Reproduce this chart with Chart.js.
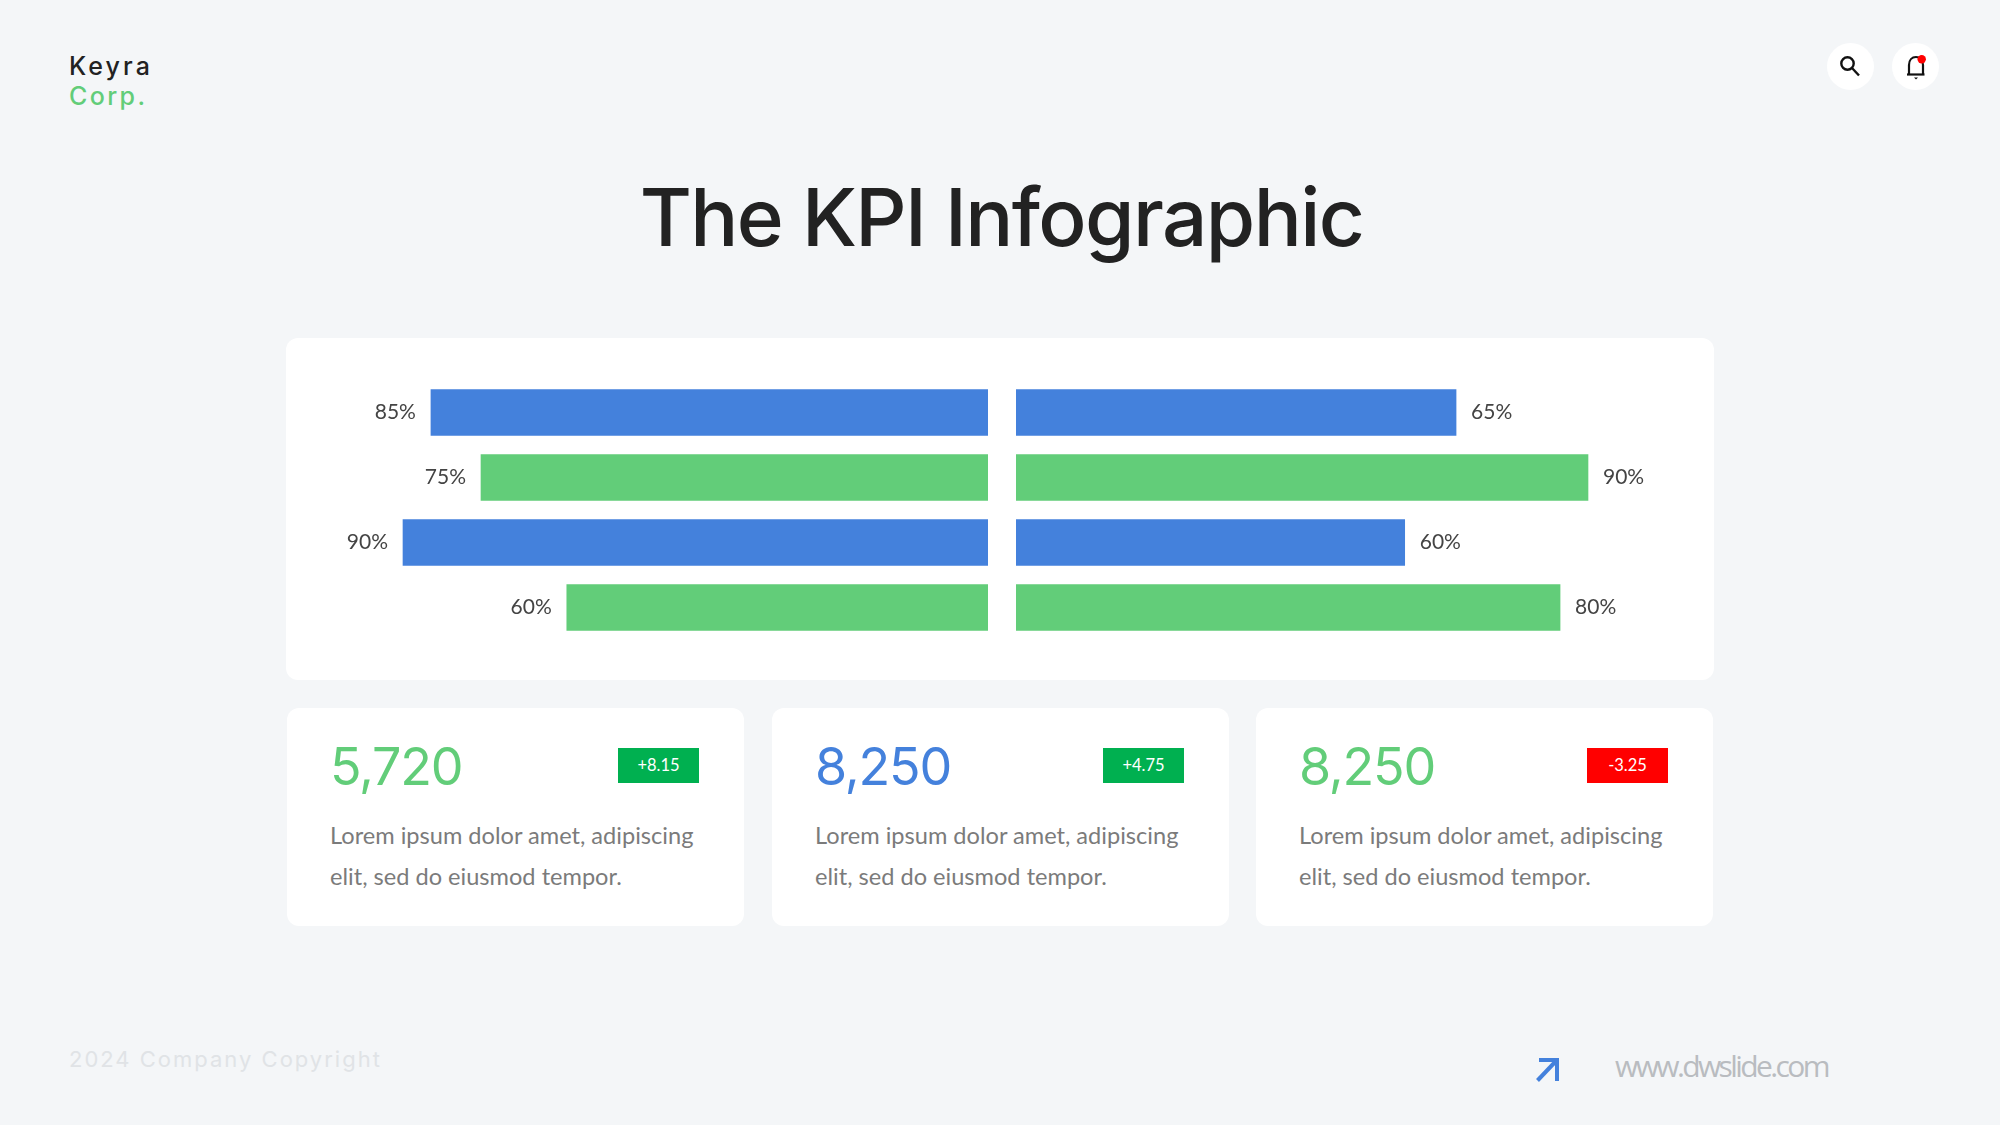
<!DOCTYPE html>
<html>
<head>
<meta charset="utf-8">
<title>The KPI Infographic</title>
<script src="https://cdn.jsdelivr.net/npm/chart.js@4"></script>
<style>
  html, body { margin: 0; padding: 0; }
  body { width: 2000px; height: 1125px; background: #f4f6f8; position: relative; overflow: hidden; font-family: Lato, sans-serif; }
  .abs { position: absolute; white-space: nowrap; }
  .panel { position: absolute; background: #fff; border-radius: 12px; }
  canvas { position: absolute; }
  .brand { left: 69px; font: 500 25px/30px Inter, sans-serif; letter-spacing: 3.1px; }
  #title { left: 0; width: 2003px; top: 167px; text-align: center; font: 500 80px/100px Inter, sans-serif; letter-spacing: -1.6px; color: #222; }
  .num { font: 400 52px/60px Inter, sans-serif; letter-spacing: -1.2px; top: 737px; }
  .badge { position: absolute; top: 748px; width: 81px; height: 35px; line-height: 35px; text-align: center; color: #fff; font: 400 16.5px/35px Lato, sans-serif; }
  .desc { font: 400 23.6px/41px Lato, sans-serif; color: #7b7b7b; top: 815px; }
  #copy { left: 69px; top: 1045px; font: 400 22px/28px Inter, sans-serif; letter-spacing: 2px; color: #e0e3e6; }
  #site { left: 1615px; top: 1046px; font: 400 30px/40px "Open Sans", sans-serif; letter-spacing: -2.6px; color: #b9bcc0; }
  .round { position: absolute; top: 43px; width: 47px; height: 47px; border-radius: 50%; background: #fff; }
</style>
</head>
<body>
<div class="abs brand" style="top:51px;color:#222">Keyra</div>
<div class="abs brand" style="top:81px;color:#62cd79;letter-spacing:2.4px">Corp.</div>
<div class="abs" id="title">The KPI Infographic</div>

<div class="round" style="left:1827px">
  <svg width="47" height="47" viewBox="0 0 47 47" fill="none" stroke="#111" stroke-width="2.4">
    <circle cx="20.5" cy="20.5" r="6.2"/><path d="M25 25 L32 32.5"/>
  </svg>
</div>
<div class="round" style="left:1892px">
  <svg width="47" height="47" viewBox="0 0 47 47" fill="none" stroke="#111" stroke-width="2.2">
    <path d="M17 31 V22 C17 17 20 14 24 14 C28 14 31 17 31 22 V31"/><path d="M15 31.5 H32.5"/>
    <path d="M22 34.5 H26 L24 36.5 Z" fill="#111" stroke="none"/>
    <circle cx="29.7" cy="16.3" r="4.2" fill="#f00" stroke="none"/>
  </svg>
</div>

<div class="panel" style="left:286px;top:338px;width:1428px;height:342px"></div>
<canvas id="leftChart" width="650" height="260" style="left:338px;top:380px"></canvas>
<canvas id="rightChart" width="650" height="260" style="left:1016px;top:380px"></canvas>

<div id="cards"></div>

<div class="abs" id="copy">2024 Company Copyright</div>
<svg class="abs" style="left:1534px;top:1056px" width="28" height="28" viewBox="0 0 28 28" fill="none" stroke="#4481dc" stroke-width="4">
  <path d="M5 4 H23 V25"/><path d="M23 4 L3.5 24.5"/>
</svg>
<div class="abs" id="site">www.dwslide.com</div>

<script>
const rows = ['Row 1', 'Row 2', 'Row 3', 'Row 4'];

// printed labels
const leftLabels = [85, 75, 90, 60];
const rightLabels = [65, 90, 60, 80];

// bar lengths as drawn in the picture, they don't follow the printed labels exactly
const leftLengths = [85.7, 78, 90, 64.8];
const rightLengths = [67.7, 88, 59.8, 83.7];

const barColors = ['#4481dc', '#62cd79', '#4481dc', '#62cd79'];

const cardValues = ['5,720', '8,250', '8,250'];
const cardBadges = ['+8.15', '+4.75', '-3.25'];
const cardDescLines = ['Lorem ipsum dolor amet, adipiscing', 'elit, sed do eiusmod tempor.'];
const cardValueColors = ['#62cd79', '#4481dc', '#62cd79'];
const cardBadgeColors = ['#00b050', '#00b050', '#ff0000'];
const cardLefts = [287, 772, 1256];

// value labels next to the end of each bar
const endLabels = {
  id: 'endLabels',
  afterDatasetsDraw(chart, args, opts) {
    const ctx = chart.ctx;
    const meta = chart.getDatasetMeta(0);
    ctx.save();
    ctx.font = '400 21px Lato, sans-serif';
    ctx.fillStyle = '#444';
    ctx.textBaseline = 'middle';
    ctx.textAlign = opts.reverse ? 'right' : 'left';
    meta.data.forEach((bar, i) => {
      const x = opts.reverse ? bar.x - 15 : bar.x + 15;
      ctx.fillText(opts.labels[i] + '%', x, bar.y);
    });
    ctx.restore();
  }
};

function makeChart(id, lengths, labels, reverse) {
  return new Chart(document.getElementById(id).getContext('2d'), {
    type: 'bar',
    data: {
      labels: rows,
      datasets: [{ data: lengths, backgroundColor: barColors, borderWidth: 0, barThickness: 46 }]
    },
    options: {
      indexAxis: 'y',
      responsive: false,
      animation: false,
      layout: { padding: 0 },
      scales: {
        x: { display: false, min: 0, max: 100, reverse: reverse },
        y: { display: false }
      },
      plugins: {
        legend: { display: false },
        tooltip: { enabled: false },
        endLabels: { labels: labels, reverse: reverse }
      }
    },
    plugins: [endLabels]
  });
}

makeChart('leftChart', leftLengths, leftLabels, true);
makeChart('rightChart', rightLengths, rightLabels, false);

// the three KPI cards
const cards = document.getElementById('cards');
cardLefts.forEach((left, i) => {
  cards.insertAdjacentHTML('beforeend',
    `<div class="panel" style="left:${left}px;top:708px;width:457px;height:218px"></div>
     <div class="abs num" style="left:${left + 43}px;color:${cardValueColors[i]}">${cardValues[i]}</div>
     <div class="badge" style="left:${left + 331}px;background:${cardBadgeColors[i]}">${cardBadges[i]}</div>
     <div class="abs desc" style="left:${left + 43}px">${cardDescLines.join('<br>')}</div>`);
});
</script>
</body>
</html>
